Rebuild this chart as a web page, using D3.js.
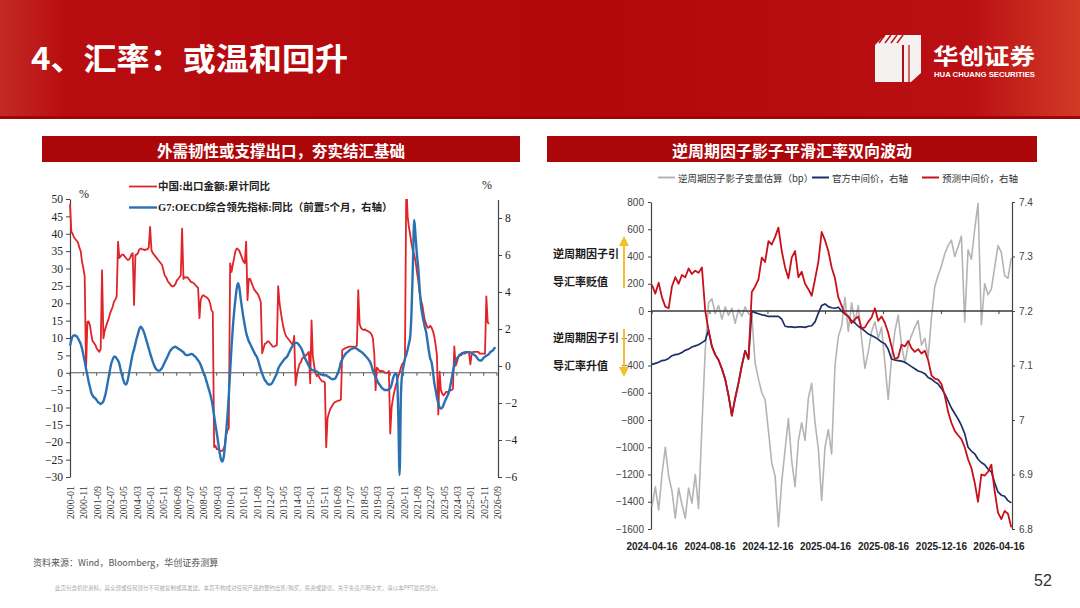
<!DOCTYPE html>
<html>
<head>
<meta charset="utf-8">
<script src="https://cdn.jsdelivr.net/npm/d3@7/dist/d3.min.js"></script>
<style>
  body { margin: 0; background: #fff; }
  svg { display: block; }
</style>
</head>
<body>
<svg id="slide" width="1080" height="608"></svg>
<script>
// ---- left chart data (monthly, from 2000-01) ----
const exportYoY = [
  48.5, 40.6, 40, 39, 38.5, 38, 37.5, 36, 35, 32, 30, 27.8,
  1, 14.6, 14.8, 13.6, 11, 9, 8.6, 8, 7, 6.5, 6, 6.8,
  29.5, 9.9, 12, 13.3, 14.5, 15.5, 17, 18, 19, 20.5, 21, 22,
  37.7, 33, 33.5, 34, 34, 33.5, 33, 32.5, 32.5, 33, 34, 34.4,
  19.5, 33.9, 34, 34.5, 35.5, 35.8, 35.5, 35.5, 35.3, 35.5, 35.5, 36,
  42, 35.3, 34.5, 34, 33.5, 33, 32.5, 32, 31.5, 31, 29.5, 28,
  27.5, 26.5, 26, 25.5, 25, 24.8, 25, 25.5, 26.5, 27, 27.5, 28,
  41.5, 27, 27.5, 27.4, 27.5, 27, 26.5, 26, 26, 25.7, 25.2, 24.8,
  24.5, 15.7, 21, 22, 22.3, 22, 21.8, 21.5, 21, 20, 18, 17.5,
  -21.4, -21, -22, -22, -22.3, -22.5, -22.5, -22, -21, -18, -16.5, -16,
  31.5, 29, 31, 33, 35, 35.8, 35.5, 35, 34, 33, 32, 31.5,
  37.7, 20.9, 27, 27, 26, 25, 24, 23.5, 23, 22.5, 21.5, 20.3,
  5.6, 7, 8.3, 8.5, 9, 9, 8.5, 8, 7.5, 7.5, 7.8, 7.9,
  24.9, 20, 17.5, 15, 13, 11.5, 10.5, 10, 9.5, 9, 8.5, 7.9,
  10.6, -3.6, -1, 1, 2.5, 3, 4, 4.5, 5, 5, 5.5, 6,
  -3, 15.1, 5, 2, 0, -1, -0.5, -1.5, -2, -2.5, -2.5, -2.8,
  -21.4, -13, -11.7, -10.5, -9.8, -9.2, -8.6, -8.4, -8.2, -8, -8, -7.7,
  6.5, 6.8, 7, 7.2, 7.3, 7.5, 7.5, 7.5, 7.5, 7.4, 7.5, 7.9,
  23.8, 14, 13, 12.5, 12.3, 12.5, 12.2, 12, 11.8, 11.5, 11, 9.9,
  5.6, -5, 1.5, 1, 0.5, 0.5, 0.5, 0.4, 0, -0.1, 0, 0.5,
  -17.5, -10, -7.5, -5.5, -4, -2.5, -1, 0, 1.5, 2.5, 3, 3.6,
  55, 45, 42, 39.6, 37, 35, 34, 32, 29, 26.4, 23, 21,
  19.5, 17, 15, 14, 13, 13, 13.5, 13, 12, 10.5, 8, 5,
  -12, 0.3, -5, -6, -6.5, -6, -5.5, -5.5, -5.5, -5, -5, -4.6,
  7.6, 2, 3, 4.5, 5, 5, 5.5, 5.5, 5.5, 5.8, 6, 5.9,
  2.4, 5.5, 6, 6, 6, 6, 6, 5.5, 5.5, 5.5, 5.5, 5.5,
  22, 14.5, 14
];
const oecdLead = [
  1.1, 1.4, 1.6, 1.65, 1.65, 1.6, 1.5, 1.35, 1.2, 0.95, 0.6, 0.25,
  -0.15, -0.5, -0.85, -1.15, -1.45, -1.6, -1.7, -1.75, -1.85, -1.95, -2.0, -2.05,
  -2.0, -1.9, -1.7, -1.4, -1.0, -0.6, -0.2, 0.15, 0.35, 0.5, 0.5, 0.4,
  0.3, 0.1, -0.2, -0.5, -0.75, -0.95, -1.0, -0.85, -0.5, -0.1, 0.3, 0.65,
  0.9, 1.2, 1.5, 1.75, 2.0, 2.12, 2.05, 1.9, 1.7, 1.45, 1.2, 0.95,
  0.7, 0.45, 0.25, 0.05, -0.1, -0.2, -0.25, -0.25, -0.2, -0.1, 0.05, 0.2,
  0.35, 0.5, 0.65, 0.8, 0.9, 0.97, 1.02, 1.04, 1.0, 0.95, 0.9, 0.85,
  0.8, 0.75, 0.65, 0.6, 0.58, 0.6, 0.63, 0.65, 0.63, 0.55, 0.5, 0.4,
  0.3, 0.2, 0.05, -0.15, -0.35, -0.5, -0.75, -1.0, -1.25, -1.5, -1.8, -2.2,
  -2.7, -3.2, -3.6, -4.1, -4.6, -5.0, -5.17, -5.0, -4.4, -3.6, -2.7, -1.6,
  -0.3, 1.0, 2.0, 2.9, 3.6, 4.2, 4.47, 4.2, 3.6, 3.1, 2.6, 2.2,
  1.8, 1.55, 1.35, 1.2, 1.05, 0.9, 0.75, 0.6, 0.5, 0.3, 0.05, -0.2,
  -0.4, -0.6, -0.75, -0.85, -0.95, -1.0, -1.0, -0.95, -0.85, -0.7, -0.55, -0.4,
  -0.15, 0.0, 0.1, 0.2, 0.3, 0.4, 0.45, 0.55, 0.7, 0.85, 1.0, 1.1,
  1.2, 1.25, 1.25, 1.2, 1.1, 1.0, 0.85, 0.65, 0.45, 0.3, 0.15, 0.0,
  -0.1, -0.2, -0.22, -0.25, -0.27, -0.3, -0.35, -0.4, -0.45, -0.47, -0.5, -0.5,
  -0.5, -0.55, -0.6, -0.65, -0.7, -0.72, -0.7, -0.65, -0.5, -0.35, -0.1, 0.2,
  0.35, 0.5, 0.6, 0.7, 0.75, 0.82, 0.88, 0.92, 0.95, 0.97, 0.97, 0.93,
  0.88, 0.82, 0.78, 0.72, 0.65, 0.58, 0.5, 0.42, 0.32, 0.2, 0.0, -0.25,
  -0.45, -0.6, -0.75, -0.9, -1.0, -1.1, -1.2, -1.25, -1.3, -1.3, -1.3, -1.25,
  -1.2, -1.0, -0.7, -0.5, -0.4, -0.5, -2.5, -5.9, -1.5, -0.4, 0.0, 0.4,
  0.6, 0.9, 1.2, 1.6, 3.0, 5.5, 7.9, 7.0, 6.0, 5.3, 4.2, 3.3,
  2.8, 2.4, 2.1, 1.8, 1.3, 0.8, 0.4, 0.2, -0.3, -0.9, -1.3, -1.7,
  -2.0, -2.25, -2.3, -2.25, -2.1, -1.9, -1.75, -1.6, -1.4, -1.1, -0.7, -0.3,
  0.05, 0.25, 0.4, 0.5, 0.6, 0.65, 0.7, 0.72, 0.75, 0.75, 0.75, 0.75,
  0.75, 0.7, 0.65, 0.6, 0.55, 0.45, 0.35, 0.3, 0.3, 0.35, 0.45, 0.5,
  0.55, 0.6, 0.65, 0.75, 0.8, 0.85, 0.95, 1.0
];
const leftTickLabels = ['2000-01','2000-11','2001-09','2002-07','2003-05','2004-03','2005-01','2005-11',
  '2006-09','2007-07','2008-05','2009-03','2010-01','2010-11','2011-09','2012-07','2013-05','2014-03',
  '2015-01','2015-11','2016-09','2017-07','2018-05','2019-03','2020-01','2020-11','2021-09','2022-07',
  '2023-05','2024-03','2025-01','2025-11','2026-09'];
const leftAxisTicks = [-30, -25, -20, -15, -10, -5, 0, 5, 10, 15, 20, 25, 30, 35, 40, 45, 50];
const rightAxisTicks = [-6, -4, -2, 0, 2, 4, 6, 8];

// ---- right chart data (weekly, from 2024-04-16) ----
const shadowBp = [
  -1436, -1290, -1460, -1200, -1000, -1210, -1320, -1520, -1300, -1420, -1520, -1300, -1410, -1200, -1450, -850,
  -290, 60, 90, -20, 40, -60, 30, -30, 20, -90, 10, -40, 30, -20, -30,
  -383, -500, -600, -650, -880, -1117, -1210, -1583, -1250, -1020, -790, -1100, -1290, -950, -820, -950,
  -640, -530, -820, -1010, -1390, -1000, -870, -1050, -400, -190, -110,
  100, -150, 60, -80, 40, -200, -420, -300, -150, -80, -200, -120, -380, -650, -350, -150, -30, -250,
  -380, -250, -180, -120, -70, -250, -200, -340, -50,
  180, 260, 330, 420, 480, 520, 400, 470, 550, -80, 450, 380, 600, 790, -100, 200, 120, 160, 320, 480,
  430, 260, 240, 390
];
const officialMid = [
  7.102, 7.104, 7.106, 7.109, 7.11, 7.113, 7.118, 7.12, 7.121, 7.124, 7.128, 7.13, 7.134, 7.136, 7.138, 7.142,
  7.146, 7.165, 7.135, 7.12, 7.11, 7.094, 7.075, 7.045, 7.008, 7.04, 7.068, 7.1, 7.127, 7.112, 7.2,
  7.197, 7.195, 7.193, 7.192, 7.19, 7.19, 7.19, 7.19, 7.185, 7.172, 7.171, 7.171, 7.17, 7.171, 7.171, 7.17,
  7.172, 7.173, 7.18, 7.196, 7.21, 7.213, 7.208, 7.206, 7.205, 7.207, 7.2,
  7.195, 7.19, 7.182, 7.178, 7.172, 7.168, 7.163, 7.158, 7.155, 7.152, 7.148, 7.143, 7.14, 7.13, 7.112, 7.11,
  7.109, 7.108, 7.106, 7.102, 7.098, 7.094, 7.09, 7.088, 7.085, 7.078, 7.075,
  7.07, 7.066, 7.058, 7.048, 7.035, 7.022, 7.012, 7.002, 6.99, 6.975, 6.95, 6.943, 6.938, 6.928, 6.922, 6.918,
  6.91, 6.905, 6.885, 6.868, 6.862, 6.86, 6.852, 6.848
];
const predictedMid = [
  7.248, 7.232, 7.252, 7.225, 7.208, 7.205, 7.245, 7.262, 7.25, 7.266, 7.262, 7.278, 7.268, 7.274, 7.27, 7.28,
  7.2, 7.165, 7.135, 7.12, 7.11, 7.094, 7.075, 7.045, 7.008, 7.04, 7.068, 7.1, 7.127, 7.112, 7.235,
  7.245, 7.258, 7.298, 7.29, 7.328, 7.322, 7.336, 7.353, 7.31, 7.28, 7.26, 7.298, 7.31, 7.262, 7.272, 7.25,
  7.24, 7.228, 7.258, 7.29, 7.345, 7.33, 7.31, 7.28, 7.26, 7.225, 7.21,
  7.195, 7.19, 7.178, 7.185, 7.19, 7.168, 7.17, 7.18, 7.188, 7.205, 7.182, 7.19, 7.178, 7.16, 7.135, 7.112,
  7.115, 7.138, 7.135, 7.145, 7.132, 7.125, 7.13, 7.122, 7.127, 7.11, 7.082,
  7.076, 7.074, 7.066, 7.045, 7.015, 6.995, 6.98, 6.972, 6.965, 6.95, 6.928, 6.912, 6.885, 6.85, 6.9, 6.898,
  6.905, 6.918, 6.87, 6.83, 6.818, 6.833, 6.828, 6.803
];
const rightTickLabels = ['2024-04-16','2024-08-16','2024-12-16','2025-04-16','2025-08-16','2025-12-16','2026-04-16'];
const bpTicks = [-1600, -1400, -1200, -1000, -800, -600, -400, -200, 0, 200, 400, 600, 800];
const cnyTicks = [6.8, 6.9, 7, 7.1, 7.2, 7.3, 7.4];

const svg = d3.select('#slide');
const defs = svg.append('defs');
const serif = '"Liberation Serif", "Times New Roman", "Noto Sans CJK SC", serif';
const cjk = '"Noto Sans CJK SC", "Noto Sans", sans-serif';
const narrow = '"Liberation Sans Narrow", "Arial Narrow", "Liberation Sans", "Noto Sans CJK SC", sans-serif';

// ---------- header ----------
const grad = defs.append('linearGradient').attr('id', 'hdr').attr('x1', 0).attr('x2', 1).attr('y1', 0).attr('y2', 0);
grad.append('stop').attr('offset', '0%').attr('stop-color', '#c42a24');
grad.append('stop').attr('offset', '6%').attr('stop-color', '#b80d10');
grad.append('stop').attr('offset', '55%').attr('stop-color', '#b3080b');
grad.append('stop').attr('offset', '90%').attr('stop-color', '#bb1013');
grad.append('stop').attr('offset', '100%').attr('stop-color', '#d23a26');
svg.append('rect').attr('x', 0).attr('y', 0).attr('width', 1080).attr('height', 119).attr('fill', 'url(#hdr)');
svg.append('rect').attr('x', 0).attr('y', 116).attr('width', 1080).attr('height', 3).attr('fill', '#a00608');

svg.append('text').attr('x', 31).attr('y', 70)
  .attr('fill', '#fff').attr('font-family', cjk).attr('font-weight', 'bold')
  .attr('font-size', 31).attr('textLength', 317).attr('lengthAdjust', 'spacingAndGlyphs')
  .text('4、汇率：或温和回升');

// logo
const logo = svg.append('g').attr('transform', 'translate(875,35)');
logo.append('path').attr('d', 'M10,0 L46,0 L46,38 L36,47 L0,47 L0,10 Z').attr('fill', '#f4f1f0');
for (let i = 0; i < 5; i++) {
  logo.append('line').attr('x1', 4 + i * 6).attr('y1', 0).attr('x2', -2 + i * 6).attr('y2', 8)
    .attr('stroke', '#b80d10').attr('stroke-width', 1.4);
}
logo.append('line').attr('x1', 28).attr('y1', 10).attr('x2', 28).attr('y2', 47).attr('stroke', '#b80d10').attr('stroke-width', 2);
logo.append('line').attr('x1', 34).attr('y1', 10).attr('x2', 34).attr('y2', 47).attr('stroke', '#b80d10').attr('stroke-width', 1.2);
svg.append('text').attr('x', 933).attr('y', 64).attr('fill', '#fff')
  .attr('font-family', cjk).attr('font-weight', 'bold').attr('font-size', 22)
  .attr('textLength', 102).attr('lengthAdjust', 'spacingAndGlyphs').text('华创证券');
svg.append('text').attr('x', 934).attr('y', 77).attr('fill', '#fff')
  .attr('font-family', '"Liberation Sans Narrow", "Liberation Sans", sans-serif').attr('font-weight', 'bold').attr('font-size', 7)
  .attr('textLength', 101).attr('lengthAdjust', 'spacingAndGlyphs').text('HUA CHUANG SECURITIES');

// ---------- title bars ----------
function titleBar(x, w, label, size) {
  svg.append('rect').attr('x', x).attr('y', 136).attr('width', w).attr('height', 26).attr('fill', '#ab070b');
  svg.append('text').attr('x', x + w / 2).attr('y', 150).attr('text-anchor', 'middle')
    .attr('dominant-baseline', 'central').attr('fill', '#fff')
    .attr('font-family', cjk).attr('font-weight', 'bold').attr('font-size', size).text(label);
}
titleBar(42, 478, '外需韧性或支撑出口，夯实结汇基础', 15.5);
titleBar(547, 490, '逆周期因子影子平滑汇率双向波动', 16);

// ---------- left chart ----------
const monthDate = i => new Date(2000, i, 1);
const xL = d3.scaleTime().domain([new Date(2000, 0, 1), new Date(2026, 8, 1)]).range([70, 497]);
const yL = d3.scaleLinear().domain([-30, 50]).range([477, 199]);
const yR = d3.scaleLinear().domain([-6, 9]).range([477, 199.5]);
const parseYM = d3.timeParse('%Y-%m');

defs.append('clipPath').attr('id', 'clipL').append('rect')
  .attr('x', 69).attr('y', 199).attr('width', 430).attr('height', 278);

const gL = svg.append('g');
// zero line with small ticks
gL.append('line').attr('x1', 70).attr('x2', 497).attr('y1', yL(0)).attr('y2', yL(0))
  .attr('stroke', '#555').attr('stroke-width', 1.2);
gL.selectAll('.zt').data(leftTickLabels).enter().append('line')
  .attr('x1', d => xL(parseYM(d))).attr('x2', d => xL(parseYM(d)))
  .attr('y1', yL(0)).attr('y2', yL(0) + 3).attr('stroke', '#555').attr('stroke-width', 1);

function styleAxis(g, font, size, color) {
  g.select('.domain').attr('stroke', '#444').attr('stroke-width', 1.2);
  g.selectAll('.tick line').attr('stroke', '#444');
  g.selectAll('.tick text').attr('font-family', font).attr('font-size', size).attr('fill', color);
}
gL.append('g').attr('transform', 'translate(70,0)')
  .call(d3.axisLeft(yL).tickValues(leftAxisTicks).tickSize(4).tickSizeOuter(0).tickPadding(3))
  .call(g => styleAxis(g, serif, 11.5, '#222'));
gL.append('g').attr('transform', 'translate(498,0)')
  .call(d3.axisRight(yR).tickValues(rightAxisTicks).tickSize(4).tickSizeOuter(0).tickPadding(3))
  .call(g => styleAxis(g, serif, 11.5, '#222'));

gL.selectAll('.xl').data(leftTickLabels).enter().append('text')
  .attr('transform', d => `translate(${xL(parseYM(d)) + 0.5},486) rotate(-90)`)
  .attr('text-anchor', 'end').attr('dominant-baseline', 'central')
  .attr('font-family', serif).attr('font-size', 10).attr('fill', '#333').text(d => d);

gL.append('text').attr('x', 79).attr('y', 198).attr('font-family', serif).attr('font-size', 12).attr('fill', '#222').text('%');
gL.append('text').attr('x', 482).attr('y', 189).attr('font-family', serif).attr('font-size', 12).attr('fill', '#222').text('%');

const lineExport = d3.line().x((d, i) => xL(monthDate(i))).y(d => yL(d));
const lineOecd = d3.line().x((d, i) => xL(monthDate(i))).y(d => yR(d)).curve(d3.curveMonotoneX);
gL.append('path').datum(exportYoY).attr('d', lineExport).attr('fill', 'none')
  .attr('stroke', '#e0242a').attr('stroke-width', 1.8).attr('stroke-linejoin', 'round')
  .attr('clip-path', 'url(#clipL)');
gL.append('path').datum(oecdLead).attr('d', lineOecd).attr('fill', 'none')
  .attr('stroke', '#2a71b3').attr('stroke-width', 2.4).attr('stroke-linejoin', 'round')
  .attr('clip-path', 'url(#clipL)');

// legend
const legL = [
  { label: '中国:出口金额:累计同比', color: '#e0242a', y: 186.5, w: 1.8 },
  { label: 'G7:OECD综合领先指标:同比（前置5个月，右轴）', color: '#2a71b3', y: 207.5, w: 2.4 }
];
legL.forEach(d => {
  gL.append('line').attr('x1', 129).attr('x2', 157).attr('y1', d.y).attr('y2', d.y)
    .attr('stroke', d.color).attr('stroke-width', d.w);
  gL.append('text').attr('x', 158).attr('y', d.y).attr('dominant-baseline', 'central')
    .attr('font-family', serif).attr('font-weight', 'bold').attr('font-size', 10.5).attr('fill', '#222').text(d.label);
});

// ---------- right chart ----------
const fxStart = new Date(2024, 3, 16);
const fxDate = i => d3.timeDay.offset(fxStart, i * 7);
const xR2 = d3.scaleTime().domain([fxStart, fxDate(108)]).range([652, 1011.3]);
const yBp = d3.scaleLinear().domain([-1600, 800]).range([529, 202]);
const yCny = d3.scaleLinear().domain([6.8, 7.4]).range([529, 202]);
const parseYMD = d3.timeParse('%Y-%m-%d');

const gR = svg.append('g');
gR.append('g').attr('transform', 'translate(651,0)')
  .call(d3.axisLeft(yBp).tickValues(bpTicks).tickFormat(d3.format('d')).tickSize(3).tickSizeOuter(0).tickPadding(4))
  .call(g => styleAxis(g, narrow, 10, '#444'));
gR.append('g').attr('transform', 'translate(1012,0)')
  .call(d3.axisRight(yCny).tickValues(cnyTicks).tickFormat(d => String(d)).tickSize(3).tickSizeOuter(0).tickPadding(4))
  .call(g => styleAxis(g, narrow, 10, '#444'));

gR.selectAll('.xr').data(rightTickLabels).enter().append('text')
  .attr('x', d => xR2(parseYMD(d))).attr('y', 550).attr('text-anchor', 'middle')
  .attr('font-family', narrow).attr('font-weight', 'bold').attr('font-size', 10).attr('fill', '#222')
  .text(d => d);

const lineBp = d3.line().x((d, i) => xR2(fxDate(i))).y(d => yBp(d));
const lineCny = d3.line().x((d, i) => xR2(fxDate(i))).y(d => yCny(d));
gR.append('path').datum(shadowBp).attr('d', lineBp).attr('fill', 'none')
  .attr('stroke', '#b4b4b4').attr('stroke-width', 1.6).attr('stroke-linejoin', 'round');

// zero line
gR.append('line').attr('x1', 651).attr('x2', 1012).attr('y1', yBp(0)).attr('y2', yBp(0))
  .attr('stroke', '#3a3a3a').attr('stroke-width', 1.4);
gR.selectAll('.zr').data(rightTickLabels).enter().append('line')
  .attr('x1', d => xR2(parseYMD(d))).attr('x2', d => xR2(parseYMD(d)))
  .attr('y1', yBp(0)).attr('y2', yBp(0) + 3).attr('stroke', '#3a3a3a');

gR.append('path').datum(officialMid).attr('d', lineCny).attr('fill', 'none')
  .attr('stroke', '#1c2f66').attr('stroke-width', 1.7).attr('stroke-linejoin', 'round');
gR.append('path').datum(predictedMid).attr('d', lineCny).attr('fill', 'none')
  .attr('stroke', '#c8101a').attr('stroke-width', 1.8).attr('stroke-linejoin', 'round');

// legend
const legR = [
  { label: '逆周期因子影子变量估算（bp）', color: '#b4b4b4', x: 658 },
  { label: '官方中间价，右轴', color: '#1c2f66', x: 812 },
  { label: '预测中间价，右轴', color: '#c8101a', x: 922 }
];
legR.forEach(d => {
  gR.append('line').attr('x1', d.x).attr('x2', d.x + 17).attr('y1', 177.5).attr('y2', 177.5)
    .attr('stroke', d.color).attr('stroke-width', 2);
  gR.append('text').attr('x', d.x + 20).attr('y', 178).attr('dominant-baseline', 'central')
    .attr('font-family', cjk).attr('font-size', 9.5).attr('fill', '#333').text(d.label);
});

// annotations
const notes = [
  { t: '逆周期因子引', y: 253 }, { t: '导汇率贬值', y: 281 },
  { t: '逆周期因子引', y: 337 }, { t: '导汇率升值', y: 365 }
];
notes.forEach(d => {
  gR.append('text').attr('x', 553).attr('y', d.y).attr('dominant-baseline', 'central')
    .attr('font-family', cjk).attr('font-weight', 'bold').attr('font-size', 11).attr('fill', '#1a1a1a').text(d.t);
});
const arrowColor = '#f3c02c';
gR.append('line').attr('x1', 624).attr('x2', 624).attr('y1', 288).attr('y2', 244).attr('stroke', arrowColor).attr('stroke-width', 2);
gR.append('path').attr('d', 'M619,246 L624,236 L629,246 Z').attr('fill', arrowColor);
gR.append('line').attr('x1', 624).attr('x2', 624).attr('y1', 329).attr('y2', 369).attr('stroke', arrowColor).attr('stroke-width', 2);
gR.append('path').attr('d', 'M619,367 L624,377 L629,367 Z').attr('fill', arrowColor);

// ---------- footer ----------
svg.append('text').attr('x', 33).attr('y', 566).attr('font-family', cjk).attr('font-size', 9).attr('fill', '#555')
  .text('资料来源：Wind，Bloomberg，华创证券测算');
svg.append('text').attr('x', 55).attr('y', 590).attr('font-family', cjk).attr('font-size', 5.5).attr('fill', '#aaa')
  .text('此页包含机密资料，其全部或任何部分不可被复制或再发送。本页不构成对任何产品的要约出售/购买，投资或建议。关于免责声明全文，请以本PPT最后部分。');
svg.append('text').attr('x', 1034).attr('y', 586).attr('font-family', '"Liberation Sans Narrow", "Liberation Sans", sans-serif')
  .attr('font-size', 16).attr('fill', '#333').text('52');
</script>
</body>
</html>
